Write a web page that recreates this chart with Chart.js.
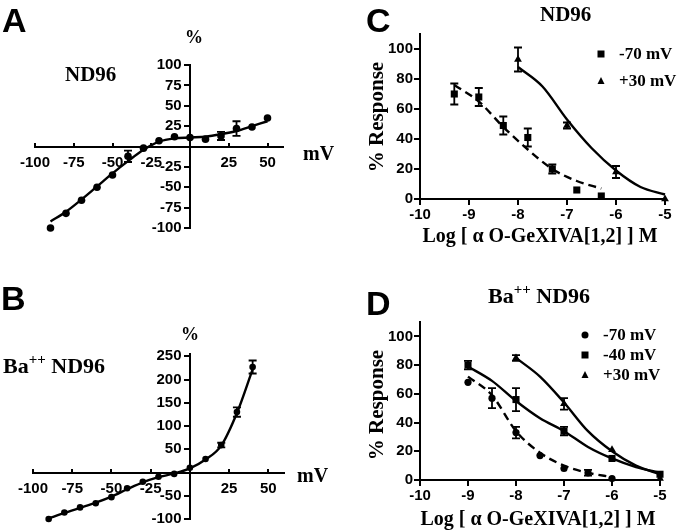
<!DOCTYPE html>
<html>
<head>
<meta charset="utf-8">
<script src="https://cdn.jsdelivr.net/npm/chart.js@4.4.1/dist/chart.umd.min.js"></script>
<style>
  body { margin: 0; background: #fff; }
  #page { position: relative; width: 680px; height: 531px; overflow: hidden; background: #fff; }
  canvas { position: absolute; }
  .t { position: absolute; font-family: "Liberation Serif", "Times New Roman", serif; font-weight: bold; line-height: 1; white-space: nowrap; color: #000; }
  .p { position: absolute; font-family: "Liberation Sans", Arial, sans-serif; font-weight: bold; font-size: 34px; line-height: 1; color: #000; }
  .rot { transform: translate(-50%, -50%) rotate(-90deg); }
  .sup { position: relative; top: -0.62em; font-size: 15px; }
</style>
</head>
<body>
<div id="page">
  <canvas id="chartA" width="340" height="265" style="left:0;top:0"></canvas>
  <canvas id="chartB" width="340" height="266" style="left:0;top:265px"></canvas>
  <canvas id="chartC" width="340" height="250" style="left:340px;top:0"></canvas>
  <canvas id="chartD" width="340" height="266" style="left:340px;top:265px"></canvas>

  <div class="p" style="left:2px;top:3px">A</div>
  <div class="t" style="left:185px;top:28px;font-size:18px">%</div>
  <div class="t" style="left:65px;top:64px;font-size:21px">ND96</div>
  <div class="t" style="left:303px;top:143px;font-size:20px">mV</div>

  <div class="p" style="left:1px;top:281px">B</div>
  <div class="t" style="left:181px;top:325px;font-size:18px">%</div>
  <div class="t" style="left:3px;top:355px;font-size:22px">Ba<span class="sup">++</span> ND96</div>
  <div class="t" style="left:297px;top:465px;font-size:20px">mV</div>

  <div class="p" style="left:366px;top:3px">C</div>
  <div class="t" style="left:540px;top:4px;font-size:21px">ND96</div>
  <div class="t rot" style="left:376px;top:117px;font-size:21px">% Response</div>
  <div class="t" style="left:540px;top:225px;font-size:20px;transform:translateX(-50%)">Log [ α O-GeXIVA[1,2] ] M</div>

  <div class="p" style="left:366px;top:286px">D</div>
  <div class="t" style="left:488px;top:285px;font-size:22px">Ba<span class="sup">++</span> ND96</div>
  <div class="t rot" style="left:376px;top:405px;font-size:21px">% Response</div>
  <div class="t" style="left:538px;top:508px;font-size:20px;transform:translateX(-50%)">Log [ α O-GeXIVA[1,2] ] M</div>
</div>

<script>
// ---- A: I-V curve, ND96 ----
const mvA = [-90, -80, -70, -60, -50, -40, -30, -20, -10, 0, 10, 20, 30, 40, 50];
const pctA = [-100, -82, -66, -50, -35, -12, -2, 7, 12, 11, 9, 13, 22, 24, 35];
const errA = [0, 0, 0, 0, 0, 7, 0, 0, 0, 0, 0, 5, 9, 0, 0];
const fitA = [-92, -80, -65, -49, -33, -18, -4, 6, 10, 11, 12, 15, 19, 25, 31];
const xTicksA = [-100, -75, -50, -25, 25, 50];
const yTicksA = [-100, -75, -50, -25, 25, 50, 75, 100];

// ---- B: I-V curve, Ba++ ND96 ----
const mvB = [-90, -80, -70, -60, -50, -40, -30, -20, -10, 0, 10, 20, 30, 40];
const pctB = [-100, -86, -75, -66, -53, -34, -20, -9, -3, 10, 29, 59, 130, 227];
const errB = [0, 0, 0, 0, 0, 0, 0, 0, 0, 0, 0, 5, 10, 14];
const fitB = [-99, -87, -76, -65, -52, -36, -21, -10, -2, 9, 28, 58, 128, 222];
const xTicksB = [-100, -75, -50, -25, 25, 50];
const yTicksB = [-100, -50, 50, 100, 150, 200, 250];

// ---- C: dose response, ND96 ----
const seriesC = ['-70 mV', '+30 mV'];
const logC70 = [-9.3, -8.8, -8.3, -7.8, -7.3, -6.8, -6.3];
const respC70 = [70, 68, 49, 41, 20, 6, 2];
const errC70 = [7, 6, 6, 6, 3, 0, 0];
const fitC70 = [76, 65, 48, 33, 20, 12, 7];
const logC30 = [-8, -7, -6, -5];
const respC30 = [93, 49, 18, 0];
const errC30 = [8, 2, 4, 0];
const fitLogC30 = [-8, -7.5, -7, -6.5, -6, -5.5, -5];
const fitC30 = [88, 75, 53, 34, 19, 8, 3];

// ---- D: dose response, Ba++ ND96 ----
const seriesD = ['-70 mV', '-40 mV', '+30 mV'];
const logD70 = [-9, -8.5, -8, -7.5, -7, -6.5, -6];
const respD70 = [68, 57, 33, 17, 8, 5, 1];
const errD70 = [0, 7, 4, 0, 0, 2, 0];
const fitD70 = [72, 59, 34, 19, 10, 5, 2];
const logD40 = [-9, -8, -7, -6, -5];
const respD40 = [80, 56, 34, 15, 4];
const errD40 = [3, 8, 3, 0, 0];
const fitLogD40 = [-9, -8.5, -8, -7.5, -7, -6.5, -6, -5.5, -5];
const fitD40 = [79, 69, 55, 43, 34, 23, 15, 9, 5];
const logD30 = [-8, -7, -6, -5];
const respD30 = [85, 53, 21, 1];
const errD30 = [2, 4, 0, 0];
const fitLogD30 = [-8, -7.5, -7, -6.5, -6, -5.5, -5];
const fitD30 = [85, 72, 54, 34, 20, 10, 4];

const logTicks = [-10, -9, -8, -7, -6, -5];
const respTicks = [0, 20, 40, 60, 80, 100];

Chart.defaults.font.family = '"Liberation Sans", Arial, sans-serif';
Chart.defaults.font.weight = 'bold';
Chart.defaults.font.size = 15;
Chart.defaults.color = '#000';

const pts = (xs, ys) => xs.map((x, i) => ({ x: x, y: ys[i] }));

// vertical error bars with caps, drawn from dataset.err through the scales
const errorBars = {
  id: 'errorBars',
  afterDatasetsDraw(chart) {
    const ctx = chart.ctx, xs = chart.scales.x, ys = chart.scales.y;
    ctx.save();
    ctx.strokeStyle = '#000';
    ctx.lineWidth = 1.8;
    chart.data.datasets.forEach(ds => {
      if (!ds.err) return;
      ds.data.forEach((p, i) => {
        const e = ds.err[i];
        if (!e) return;
        const x = xs.getPixelForValue(p.x);
        const y1 = ys.getPixelForValue(p.y - e), y2 = ys.getPixelForValue(p.y + e);
        ctx.beginPath();
        ctx.moveTo(x, y1); ctx.lineTo(x, y2);
        ctx.moveTo(x - 4, y1); ctx.lineTo(x + 4, y1);
        ctx.moveTo(x - 4, y2); ctx.lineTo(x + 4, y2);
        ctx.stroke();
      });
    });
    ctx.restore();
  }
};

// small legend inside the plot area (marker + label per labelled dataset)
const insetLegend = {
  id: 'insetLegend',
  afterDraw(chart, args, o) {
    if (o.x == null) return;
    const ctx = chart.ctx;
    ctx.save();
    ctx.fillStyle = '#000';
    ctx.font = 'bold 17px "Liberation Serif"';
    ctx.textBaseline = 'middle';
    chart.data.datasets.filter(d => d.label).forEach((d, i) => {
      const x = o.x, y = o.y + i * o.gap, r = 3.5;
      ctx.beginPath();
      if (d.pointStyle === 'rect') ctx.rect(x - r, y - r, 2 * r, 2 * r);
      else if (d.pointStyle === 'triangle') { ctx.moveTo(x, y - r - 0.5); ctx.lineTo(x + r, y + r - 0.5); ctx.lineTo(x - r, y + r - 0.5); ctx.closePath(); }
      else ctx.arc(x, y, r, 0, Math.PI * 2);
      ctx.fill();
      ctx.fillText(d.label, x + o.dx, y + 1);
    });
    ctx.restore();
  }
};

function fitLine(data, dashed) {
  return { data: data, showLine: true, pointRadius: 0, borderColor: '#000', borderWidth: 2.4,
    borderDash: dashed ? [8, 5] : [], cubicInterpolationMode: 'monotone', clip: false };
}
function marks(data, err, style, r, label) {
  return { data: data, err: err, label: label, pointStyle: style, pointRadius: r, pointHoverRadius: r,
    backgroundColor: '#000', borderColor: '#000', borderWidth: 0, clip: false };
}

// axes crossing at the origin (panels A and B)
function ivScales(xmin, xmax, ymin, ymax, xt, yt) {
  const spaced = v => v + '  ';
  return {
    x: { type: 'linear', min: xmin, max: xmax, position: { y: 0 },
      border: { color: '#000', width: 2 },
      grid: { drawOnChartArea: false, color: '#000', lineWidth: 2, tickLength: -5 },
      ticks: { padding: 12, maxRotation: 0 },
      afterBuildTicks: s => { s.ticks = xt.map(v => ({ value: v })); } },
    y: { type: 'linear', min: ymin, max: ymax, position: { x: 0 },
      border: { color: '#000', width: 2 },
      grid: { drawOnChartArea: false, color: '#000', lineWidth: 2, tickLength: 5 },
      ticks: { callback: spaced },
      afterBuildTicks: s => { s.ticks = yt.map(v => ({ value: v })); } }
  };
}

// ordinary left / bottom axes (panels C and D)
function doseScales() {
  return {
    x: { type: 'linear', min: -10, max: -5, position: 'bottom',
      border: { color: '#000', width: 2 },
      grid: { drawOnChartArea: false, color: '#000', lineWidth: 2, tickLength: 6 },
      ticks: { padding: 1, maxRotation: 0 },
      afterBuildTicks: s => { s.ticks = logTicks.map(v => ({ value: v })); },
      afterFit: s => { s.height = 51; } },
    y: { type: 'linear', min: 0, max: 110, position: 'left',
      border: { color: '#000', width: 2 },
      grid: { drawOnChartArea: false, color: '#000', lineWidth: 2, tickLength: 6 },
      ticks: { padding: 1 },
      afterBuildTicks: s => { s.ticks = respTicks.map(v => ({ value: v })); },
      afterFit: s => { s.width = 80; } }
  };
}

const common = { responsive: false, animation: false, events: [],
  plugins: { legend: { display: false }, tooltip: { enabled: false } } };

new Chart(document.getElementById('chartA'), {
  type: 'scatter',
  data: { datasets: [fitLine(pts(mvA, fitA), false), marks(pts(mvA, pctA), errA, 'circle', 3.8)] },
  options: Object.assign({}, common, {
    layout: { padding: { left: 35, right: 57, top: 65, bottom: 37 } },
    scales: ivScales(-100, 60, -100, 100, xTicksA, yTicksA)
  }),
  plugins: [errorBars]
});

new Chart(document.getElementById('chartB'), {
  type: 'scatter',
  data: { datasets: [fitLine(pts(mvB, fitB), false), marks(pts(mvB, pctB), errB, 'circle', 3.3)] },
  options: Object.assign({}, common, {
    layout: { padding: { left: 33, right: 56, top: 89, bottom: 12 } },
    scales: ivScales(-100, 60, -100, 255, xTicksB, yTicksB)
  }),
  plugins: [errorBars]
});

new Chart(document.getElementById('chartC'), {
  type: 'scatter',
  data: { datasets: [
    fitLine(pts(logC70, fitC70), true),
    fitLine(pts(fitLogC30, fitC30), false),
    marks(pts(logC70, respC70), errC70, 'rect', 5, seriesC[0]),
    marks(pts(logC30, respC30), errC30, 'triangle', 4.5, seriesC[1])
  ] },
  options: Object.assign({}, common, {
    layout: { padding: { left: 0, right: 15, top: 34, bottom: 0 } },
    scales: doseScales(),
    plugins: Object.assign({}, common.plugins, { insetLegend: { x: 261, y: 54, gap: 27, dx: 18 } })
  }),
  plugins: [errorBars, insetLegend]
});

new Chart(document.getElementById('chartD'), {
  type: 'scatter',
  data: { datasets: [
    fitLine(pts(logD70, fitD70), true),
    fitLine(pts(fitLogD40, fitD40), false),
    fitLine(pts(fitLogD30, fitD30), false),
    marks(pts(logD70, respD70), errD70, 'circle', 3.6, seriesD[0]),
    marks(pts(logD40, respD40), errD40, 'rect', 5, seriesD[1]),
    marks(pts(logD30, respD30), errD30, 'triangle', 4.5, seriesD[2])
  ] },
  options: Object.assign({}, common, {
    layout: { padding: { left: 0, right: 20, top: 57, bottom: 0 } },
    scales: doseScales(),
    plugins: Object.assign({}, common.plugins, { insetLegend: { x: 245, y: 70, gap: 20, dx: 18 } })
  }),
  plugins: [errorBars, insetLegend]
});
</script>
</body>
</html>
